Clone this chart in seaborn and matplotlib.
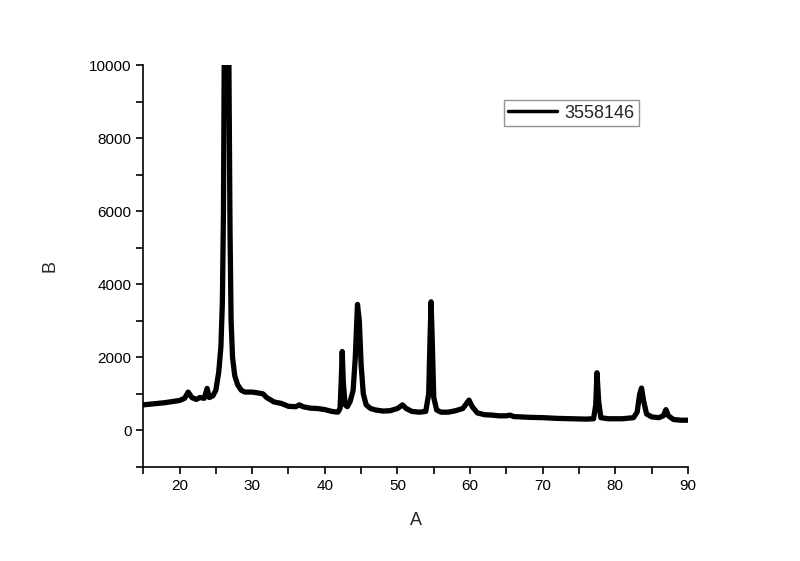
import pandas as pd
import matplotlib.pyplot as plt
import seaborn as sns
from matplotlib.ticker import MultipleLocator

# XRD pattern, values
two_theta = [15, 16, 17, 18, 19, 20, 20.7, 21.2, 21.7, 22.3, 22.8, 23.4, 23.8, 24.1,
             24.6, 25.0, 25.4, 25.7, 25.9, 26.05, 26.15, 26.3, 26.45, 26.6, 26.8, 26.95,
             27.1, 27.3, 27.6, 28, 28.5, 29, 30, 30.7, 31.5, 32, 33, 34, 35, 36, 36.5,
             37, 38, 39, 40, 41, 41.8, 42.1, 42.25, 42.4, 42.55, 42.8, 43.1, 43.5, 43.9,
             44.2, 44.5, 44.75, 45.0, 45.3, 45.7, 46.3, 47, 48, 49, 50, 50.7, 51.2, 52,
             53, 53.9, 54.3, 54.5, 54.63, 54.8, 55.0, 55.4, 56, 57, 58, 59, 59.85, 60.3,
             61, 62, 63, 64, 65, 65.5, 66, 68, 70, 72, 74, 76, 77.0, 77.3, 77.47, 77.7,
             78, 79, 81, 82.5, 83, 83.35, 83.6, 83.9, 84.3, 85, 86, 86.6, 86.97, 87.3,
             88, 89, 90]
intensity = [700, 720, 740, 760, 790, 820, 880, 1050, 900, 850, 900, 880, 1150, 900,
             950, 1100, 1600, 2300, 3500, 6000, 10000, 13000, 14000, 13000, 10000, 5500,
             3000, 2000, 1500, 1250, 1100, 1050, 1050, 1030, 1000, 900, 780, 740, 660, 650, 700,
             650, 610, 600, 570, 520, 500, 600, 1300, 2160, 1300, 700, 650, 800, 1100,
             2000, 3450, 3000, 1800, 1000, 700, 600, 560, 530, 540, 600, 700, 600, 520,
             500, 520, 1000, 2600, 3520, 2400, 900, 560, 500, 500, 540, 600, 830, 650,
             480, 430, 420, 400, 400, 420, 380, 360, 350, 330, 320, 310, 320, 700, 1580, 800,
             350, 320, 320, 350, 500, 1000, 1160, 800, 450, 370, 350, 400, 570, 400,
             300, 280, 280]

df = pd.DataFrame({"A": two_theta, "B": intensity})

sns.set_style("ticks")
plt.rcParams['font.family'] = ['Liberation Sans', 'DejaVu Sans']

fig = plt.figure(figsize=(8, 5.61), dpi=100)
ax = fig.add_axes([0.179, 0.1676, 0.681, 0.7164])

sns.lineplot(data=df, x="A", y="B", color="black", linewidth=3.8, label="3558146", ax=ax)

ax.set_xlim(15, 90)
ax.set_ylim(-1000, 10000)
ax.xaxis.set_major_locator(MultipleLocator(10))
ax.xaxis.set_minor_locator(MultipleLocator(5))
ax.yaxis.set_major_locator(MultipleLocator(2000))
ax.yaxis.set_minor_locator(MultipleLocator(1000))
ax.tick_params(which="both", direction="out", length=5, width=1.2, colors="black",
               labelsize=11)
for side in ["top", "right"]:
    ax.spines[side].set_visible(False)
for side in ["left", "bottom"]:
    ax.spines[side].set_linewidth(1.2)
    ax.spines[side].set_color("black")

ax.set_xlabel("A", fontsize=13, labelpad=14)
ax.set_ylabel("B", fontsize=13, labelpad=22)

leg = ax.legend(loc="upper left", bbox_to_anchor=(0.645, 0.935), fontsize=13,
                fancybox=False, frameon=True, borderpad=0.25, handlelength=2.7,
                handletextpad=0.4)
leg.get_frame().set_edgecolor("#777777")
leg.get_frame().set_linewidth(1.0)
for line in leg.get_lines():
    line.set_linewidth(2.5)

plt.savefig("out.png", dpi=100)
plt.close()
